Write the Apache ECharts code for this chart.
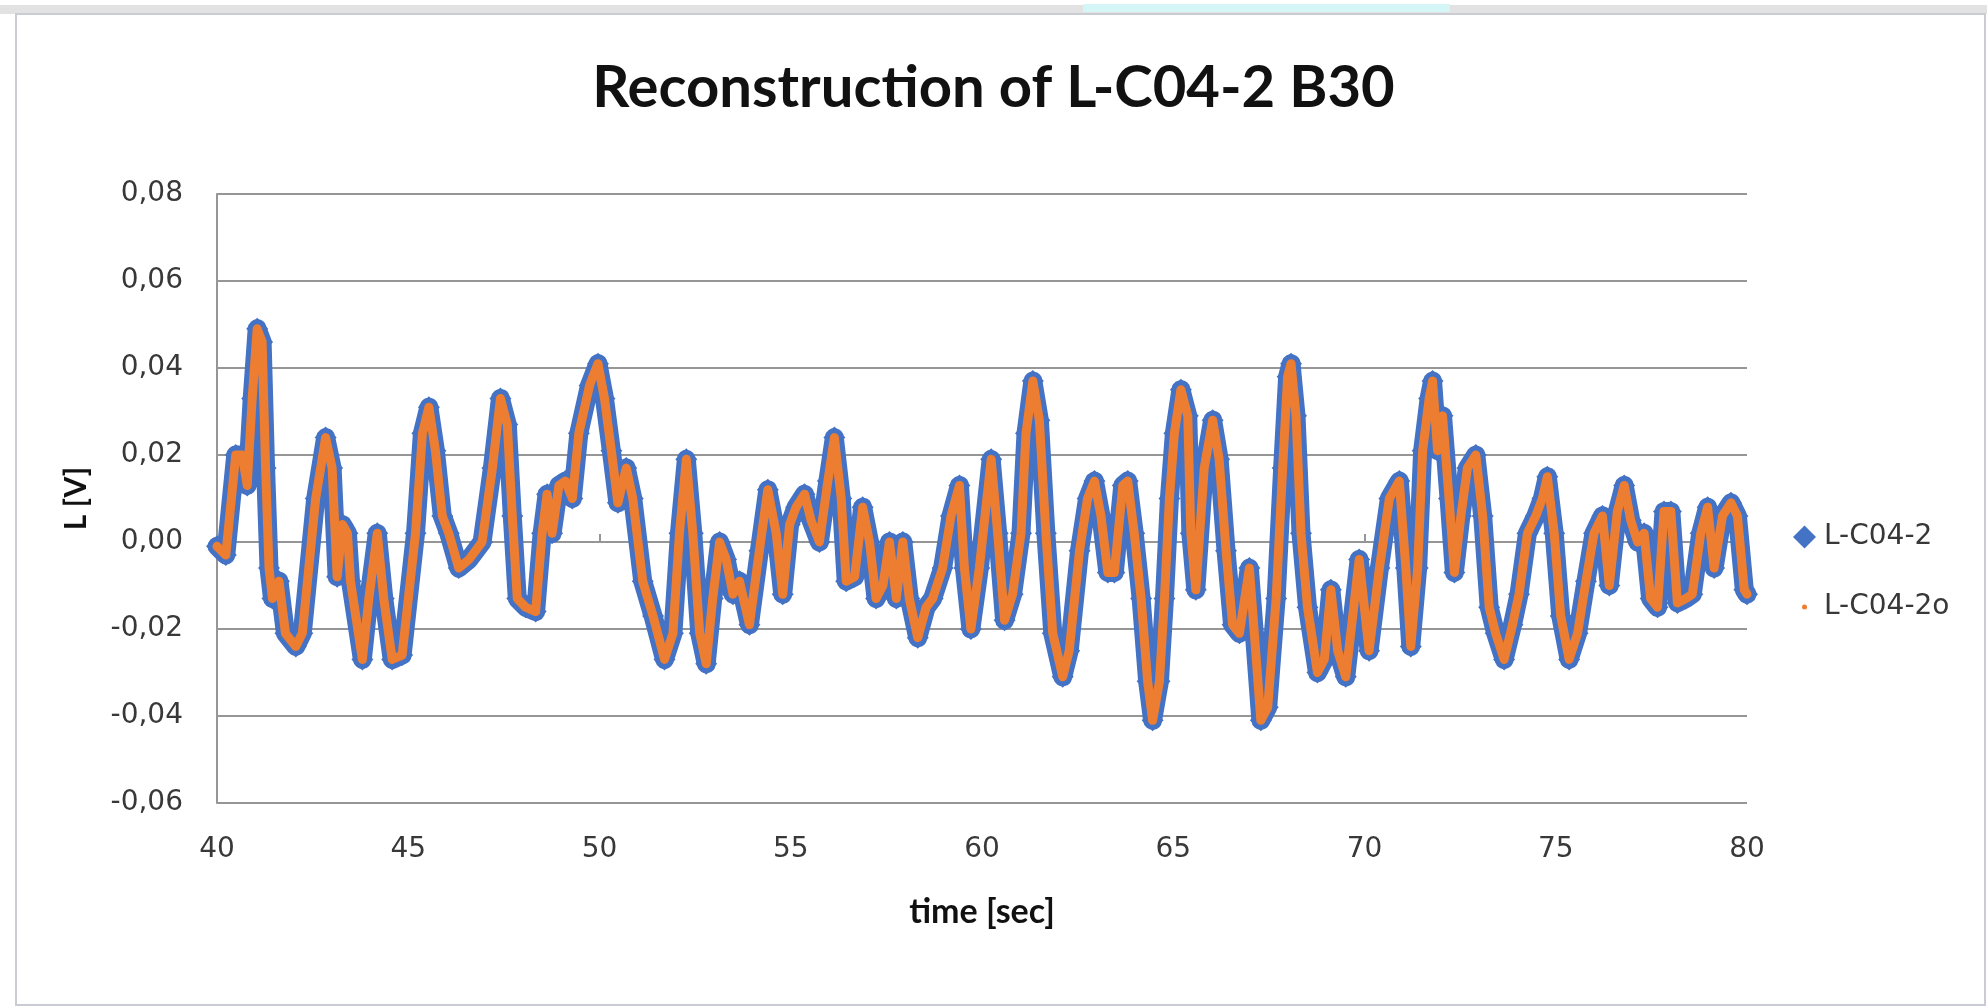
<!DOCTYPE html>
<html>
<head>
<meta charset="utf-8">
<script src="https://cdn.jsdelivr.net/npm/echarts@6/dist/echarts.min.js"></script>
<style>
  html, body { margin: 0; padding: 0; background: #fff; }
  #chart { width: 1987px; height: 1007px; }
</style>
</head>
<body>
<div id="chart"></div>
<script>
// time [sec]
const timeSec = [
  40.00, 40.23, 40.49, 40.66, 40.79, 40.92, 41.05, 41.18, 41.27, 41.36, 41.45, 41.62, 41.79, 42.06, 42.23,
  42.58, 42.84, 43.01, 43.14, 43.28, 43.41, 43.49, 43.80, 43.97, 44.19, 44.36, 44.58, 44.84, 45.19, 45.37,
  45.54, 45.71, 45.89, 46.06, 46.32, 46.59, 46.93, 47.20, 47.41, 47.59, 47.72, 47.85, 48.07, 48.33, 48.50,
  48.63, 48.76, 48.94, 49.11, 49.29, 49.46, 49.74, 49.96, 50.13, 50.31, 50.48, 50.70, 50.87, 51.13, 51.40,
  51.70, 51.92, 52.09, 52.27, 52.44, 52.62, 52.79, 52.96, 53.14, 53.31, 53.49, 53.66, 53.92, 54.18, 54.40,
  54.62, 54.79, 54.97, 55.14, 55.36, 55.53, 55.75, 55.97, 56.14, 56.32, 56.45, 56.67, 56.88, 57.06, 57.23,
  57.41, 57.58, 57.76, 57.93, 58.10, 58.32, 58.54, 58.71, 58.97, 59.19, 59.41, 59.54, 59.71, 59.93, 60.24,
  60.41, 60.59, 60.80, 61.02, 61.15, 61.33, 61.50, 61.67, 61.85, 62.11, 62.28, 62.55, 62.76, 62.94, 63.11,
  63.29, 63.46, 63.68, 63.81, 63.98, 64.16, 64.33, 64.46, 64.64, 64.77, 64.90, 65.03, 65.20, 65.38, 65.46,
  65.59, 65.81, 66.03, 66.20, 66.38, 66.55, 66.73, 66.99, 67.12, 67.29, 67.47, 67.69, 67.86, 67.99, 68.08,
  68.21, 68.34, 68.51, 68.77, 68.95, 69.12, 69.30, 69.51, 69.86, 70.12, 70.39, 70.65, 70.91, 71.08, 71.21,
  71.39, 71.52, 71.69, 71.78, 71.91, 72.04, 72.21, 72.35, 72.52, 72.69, 72.91, 73.09, 73.26, 73.43, 73.65,
  73.87, 74.04, 74.26, 74.48, 74.65, 74.78, 74.96, 75.13, 75.35, 75.57, 75.79, 76.00, 76.22, 76.40, 76.61,
  76.79, 76.96, 77.14, 77.31, 77.48, 77.66, 77.83, 78.01, 78.18, 78.40, 78.57, 78.79, 78.97, 79.14, 79.36,
  79.58, 79.75, 79.93, 80.00
];

// L [V] of L-C04-2
const lc042 = [
  -0.001, -0.003, 0.020, 0.020, 0.013, 0.033, 0.049, 0.046, 0.017, -0.006, -0.013, -0.009, -0.021, -0.024, -0.021,
  0.010, 0.024, 0.017, -0.008, 0.004, 0.002, -0.009, -0.027, -0.013, 0.002, -0.013, -0.027, -0.026, 0.002, 0.025,
  0.031, 0.021, 0.006, 0.002, -0.006, -0.004, 0.000, 0.017, 0.033, 0.027, 0.006, -0.013, -0.015, -0.016, 0.002,
  0.011, 0.002, 0.013, 0.014, 0.010, 0.025, 0.036, 0.041, 0.033, 0.021, 0.009, 0.017, 0.010, -0.009, -0.017,
  -0.027, -0.021, 0.002, 0.019, 0.002, -0.021, -0.028, -0.013, 0.000, -0.004, -0.012, -0.009, -0.019, -0.002, 0.012,
  0.002, -0.012, 0.004, 0.008, 0.011, 0.005, 0.000, 0.014, 0.024, 0.010, -0.009, -0.008, 0.008, 0.000, -0.013,
  -0.010, 0.000, -0.013, 0.000, -0.013, -0.022, -0.015, -0.013, -0.006, 0.006, 0.013, -0.006, -0.020, -0.006, 0.019,
  0.002, -0.018, -0.012, 0.002, 0.025, 0.037, 0.028, 0.002, -0.021, -0.031, -0.025, -0.002, 0.010, 0.014, 0.006,
  -0.007, -0.007, 0.013, 0.014, 0.002, -0.013, -0.032, -0.041, -0.032, -0.013, 0.010, 0.025, 0.035, 0.029, 0.002,
  -0.011, 0.017, 0.028, 0.019, -0.002, -0.019, -0.021, -0.006, -0.021, -0.041, -0.038, -0.013, 0.017, 0.038, 0.041,
  0.029, 0.002, -0.015, -0.030, -0.027, -0.011, -0.025, -0.031, -0.004, -0.025, -0.006, 0.010, 0.014, -0.006, -0.024,
  -0.006, 0.021, 0.033, 0.037, 0.021, 0.029, 0.010, -0.007, 0.006, 0.017, 0.020, 0.006, -0.015, -0.021, -0.027,
  -0.019, -0.012, 0.002, 0.006, 0.010, 0.015, 0.002, -0.017, -0.027, -0.021, -0.009, 0.002, 0.006, -0.010, 0.007,
  0.013, 0.005, 0.000, 0.002, -0.013, -0.015, 0.007, 0.007, -0.014, -0.013, -0.012, 0.002, 0.008, -0.006, 0.006,
  0.009, 0.006, -0.011, -0.012
];

// the reconstruction lies on top of the measured signal
const lc042o = lc042;

const xTicks = { min: 40, max: 80, step: 5 };
const yTicks = { min: -0.06, max: 0.08, step: 0.02 };

const toPairs = vals => timeSec.map((t, i) => [t, vals[i]]);
const fmtComma = v => (Math.abs(v) < 1e-9 ? 0 : v).toFixed(2).replace('.', ',');

const chart = echarts.init(document.getElementById('chart'));

const gray = '#969696';
const labelColor = '#383838';
const labelFont = 'DejaVu Sans';
const titleFont = 'Lato';

chart.setOption({
  animation: false,
  backgroundColor: '#fff',
  title: {
    text: 'Reconstruction of L-C04-2 B30',
    left: 'center',
    top: 54,
    textStyle: { fontFamily: titleFont, fontWeight: 'bold', fontSize: 58, color: '#111' }
  },
  grid: { left: 217, right: 240, top: 194, bottom: 204 },
  legend: [
    {
      data: [{ name: 'L-C04-2', icon: 'diamond' }],
      left: 1788, top: 518,
      itemWidth: 23, itemHeight: 23,
      textStyle: { fontFamily: labelFont, fontSize: 28, color: labelColor, padding: [0, 0, 0, 3] }
    },
    {
      data: [{ name: 'L-C04-2o', icon: 'circle' }],
      left: 1797, top: 588,
      itemWidth: 5, itemHeight: 5,
      textStyle: { fontFamily: labelFont, fontSize: 28, color: labelColor, padding: [0, 0, 0, 12] }
    }
  ],
  xAxis: {
    type: 'value',
    min: xTicks.min, max: xTicks.max, interval: xTicks.step,
    name: 'time [sec]',
    nameLocation: 'middle',
    nameGap: 92,
    nameTextStyle: { fontFamily: titleFont, fontWeight: 'bold', fontSize: 34, color: '#111' },
    axisLine: { lineStyle: { color: gray, width: 2 } },
    axisTick: { show: true, inside: true, length: 8, lineStyle: { color: gray, width: 2 } },
    axisLabel: { margin: 33, fontFamily: labelFont, fontSize: 28, color: labelColor },
    splitLine: { show: false }
  },
  yAxis: {
    type: 'value',
    min: yTicks.min, max: yTicks.max, interval: yTicks.step,
    name: 'L [V]',
    nameLocation: 'middle',
    nameGap: 126,
    nameTextStyle: { fontFamily: titleFont, fontWeight: 'bold', fontSize: 30, color: '#111' },
    axisLine: { show: true, lineStyle: { color: gray, width: 2 } },
    axisTick: { show: false },
    axisLabel: { margin: 34, fontFamily: labelFont, fontSize: 28, color: labelColor, formatter: fmtComma },
    splitLine: { show: true, lineStyle: { color: gray, width: 2 } }
  },
  series: [
    {
      name: 'L-C04-2',
      type: 'line',
      data: toPairs(lc042),
      color: '#4472C4',
      symbol: 'diamond',
      symbolSize: 22,
      showAllSymbol: true,
      itemStyle: { color: '#4472C4' },
      lineStyle: { color: '#4472C4', width: 19, join: 'round', cap: 'round' },
      z: 2
    },
    {
      name: 'L-C04-2o',
      type: 'line',
      data: toPairs(lc042o),
      color: '#ED7D31',
      symbol: 'circle',
      symbolSize: 5,
      showSymbol: false,
      itemStyle: { color: '#ED7D31' },
      lineStyle: { color: '#ED7D31', width: 9, join: 'round', cap: 'round' },
      z: 5
    }
  ],
  graphic: [
    // chart frame as seen in the screenshot
    { type: 'rect', z: -1, shape: { x: 0, y: 5, width: 1987, height: 9 }, style: { fill: '#e2e2e2' } },
    { type: 'rect', z: -1, shape: { x: 1083, y: 4, width: 367, height: 8 }, style: { fill: '#d4f6f6' } },
    { type: 'rect', z: -1, shape: { x: 16, y: 14, width: 1969, height: 991 }, style: { fill: 'none', stroke: '#c9cdd3', lineWidth: 2 } }
  ]
});
</script>
</body>
</html>
